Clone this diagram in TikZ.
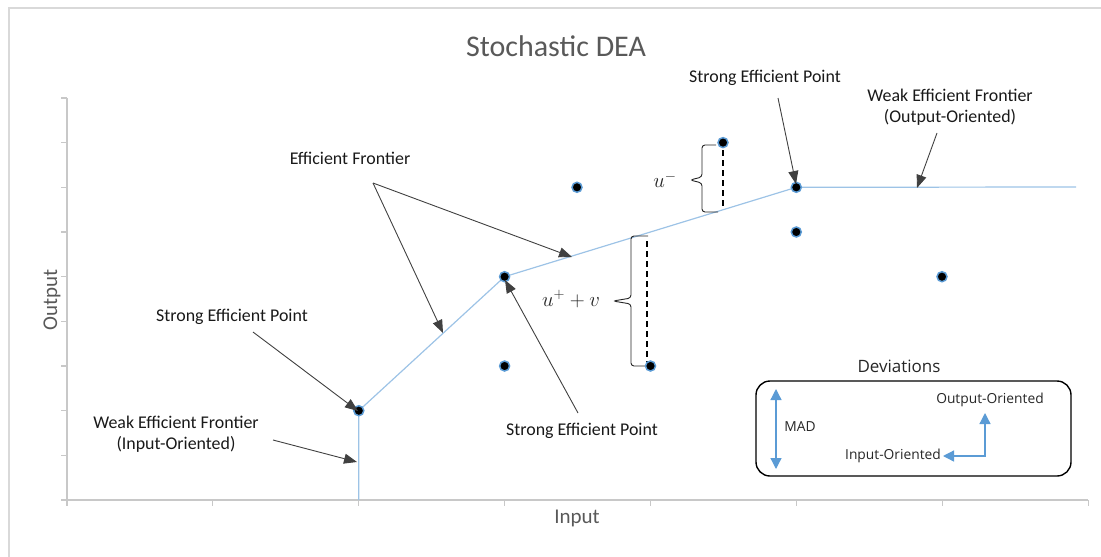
\documentclass[tikz,border=0pt]{standalone}
\usepackage{fontspec}
\setmainfont{Carlito}
\newfontfamily\segoe{Open Sans}
\usetikzlibrary{arrows.meta}
\definecolor{bordergray}{HTML}{D9D9D9}
\definecolor{axisgray}{HTML}{C8C8C8}
\definecolor{titlegray}{HTML}{595959}
\definecolor{frontierblue}{HTML}{9DC3E6}
\definecolor{dotblue}{HTML}{5B9BD5}
\definecolor{arrowgray}{HTML}{404040}
\begin{document}
\begin{tikzpicture}[x=1pt,y=-1pt,
  dot/.style={circle,fill=black,draw=dotblue,line width=1.5pt,inner sep=0pt,minimum size=10pt},
  ann/.style={font=\fontsize{17.9}{21}\selectfont,text=black!90,align=center,inner sep=0pt},
  callout/.style={draw=arrowgray,line width=0.9pt,-{Triangle[length=13pt,width=10pt]}},
  frontier/.style={draw=frontierblue,line width=1.2pt},
  axisline/.style={draw=axisgray,line width=1.1pt},
  devarrow/.style={draw=dotblue,line width=1.3pt},
  devtext/.style={font=\segoe\fontsize{13.8}{16}\selectfont,text=black!85,inner sep=0pt},
  bracestyle/.style={draw=black!85,line width=0.9pt,rounded corners=3pt},
  mathlabel/.style={font=\fontsize{20}{23}\selectfont,text=black!85},
  dashstyle/.style={draw=black,line width=1.4pt,dash pattern=on 6pt off 4pt}]
\useasboundingbox (0,0) rectangle (1101,557);
% chart border
\draw[bordergray,line width=1.2pt] (9,557) -- (9,8) -- (1101,8);
% axes
\draw[axisline] (67,98) -- (67,500) -- (1088,500);
\foreach \k in {0,...,9} \draw[axisline] (61,{98+\k*44.67}) -- (67,{98+\k*44.67});
\foreach \k in {0,...,7} \draw[axisline] ({67+\k*145.9},500) -- ({67+\k*145.9},506);
% labels
\node[font=\fontsize{30}{34}\selectfont,text=titlegray] (title) at (556,46) {Stochastic DEA};
\node[font=\fontsize{21}{24}\selectfont,text=titlegray,rotate=90] (ylab) at (52,300) {Output};
\node[font=\fontsize{21}{24}\selectfont,text=titlegray] (xlab) at (577,518) {Input};
% frontier
\coordinate (fstart) at (358.8,500);
\coordinate (fend) at (1076,187);
\coordinate (fa) at (358.8,410.7);
\coordinate (fb) at (504.6,276.7);
\coordinate (fc) at (796.3,187.3);
\draw[frontier] (fstart) -- (fa) -- (fb) -- (fc) -- (fend);
% braces and dashed deviations
\draw[dashstyle] (723,150) -- (723,209);
\draw[dashstyle] (647,241) -- (647,362);
\draw[bracestyle] (716,145) -- (702,145) -- (702,177) -- (690,180) -- (702,183) -- (702,212) -- (718,212);
\draw[bracestyle] (648,236) -- (631,236) -- (631,298) -- (613,301) -- (631,304) -- (631,366) -- (648,366);
\node[mathlabel] (um) at (665,180) {$u^{-}$};
\node[mathlabel] (upv) at (571,299) {$u^{+}+v$};
% dots
\node[dot] (p1) at (fa) {};
\node[dot] (p2) at (fb) {};
\node[dot] (p3) at (fc) {};
\node[dot] (p4) at (577,187.3) {};
\node[dot] (p5) at (504.6,366) {};
\node[dot] (p6) at (650.5,366) {};
\node[dot] (p7) at (723,142.6) {};
\node[dot] (p8) at (796.3,232) {};
\node[dot] (p9) at (942,276.7) {};
% annotations
\node[ann] (sep1) at (765,78) {Strong Efficient Point};
\node[ann] (wof) at (950,107) {Weak Efficient Frontier\\(Output-Oriented)};
\node[ann] (ef) at (350,158) {Efficient Frontier};
\node[ann] (sep2) at (232,317) {Strong Efficient Point};
\node[ann] (wif) at (176,434) {Weak Efficient Frontier\\(Input-Oriented)};
\node[ann] (sep3) at (582,431) {Strong Efficient Point};
\coordinate (a1s) at (778,98);   \coordinate (a1e) at (796,184);
\coordinate (a2s) at (937,133);  \coordinate (a2e) at (917,188);
\coordinate (a3s) at (373,183);  \coordinate (a3e) at (572,257);
\coordinate (a4e) at (443,333);
\coordinate (a5s) at (253,332);  \coordinate (a5e) at (358,411);
\coordinate (a6s) at (273,440);  \coordinate (a6e) at (357,462);
\coordinate (a7s) at (578,413);  \coordinate (a7e) at (505,280);
\draw[callout] (a1s) -- (a1e);
\draw[callout] (a2s) -- (a2e);
\draw[callout] (a3s) -- (a3e);
\draw[callout] (a3s) -- (a4e);
\draw[callout] (a5s) -- (a5e);
\draw[callout] (a6s) -- (a6e);
\draw[callout] (a7s) -- (a7e);
% deviations legend
\node[font=\segoe\fontsize{17}{20}\selectfont,text=black!85] (devt) at (899,366) {Deviations};
\draw[line width=1.4pt,rounded corners=14pt] (756,381) rectangle (1071,476);
\coordinate (madt) at (776,389);
\coordinate (madb) at (776,469);
\draw[devarrow,{Triangle[length=11pt,width=11pt]}-{Triangle[length=11pt,width=11pt]}] (madt) -- (madb);
\node[devtext] (mad) at (800,427) {MAD};
\node[devtext] (oo) at (990,400) {Output-Oriented};
\node[devtext] (io) at (893,456) {Input-Oriented};
\coordinate (corner) at (985,456);
\coordinate (ootip) at (985,413);
\coordinate (iotip) at (943,456);
\draw[devarrow,{Triangle[length=11pt,width=11pt]}-{Triangle[length=11pt,width=11pt]}] (iotip) -- (corner) -- (ootip);
\end{tikzpicture}
\end{document}
